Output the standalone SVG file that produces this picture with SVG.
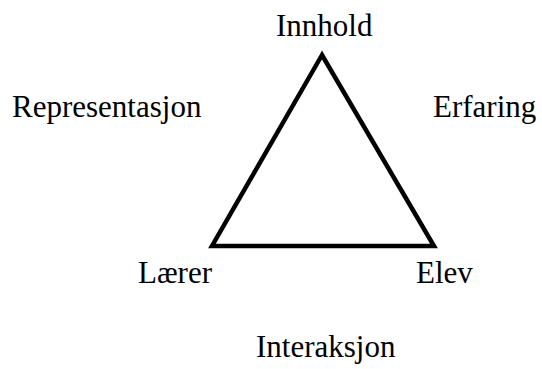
<svg xmlns="http://www.w3.org/2000/svg" width="542" height="369" viewBox="0 0 542 369">
<style>
.lbl{font-family:"Liberation Serif","Times New Roman",serif;font-size:31px;fill:#000}
.edge{fill:none;stroke:#000;stroke-width:4.5;stroke-linejoin:miter}
</style>
<rect width="542" height="369" fill="#fff"/>
<g id="connectors">
<polygon class="edge" points="322,55 212,246 434,246"/>
</g>
<g id="innhold"><text class="lbl" x="276" y="36">Innhold</text></g>
<g id="representasjon"><text class="lbl" x="12" y="117">Representasjon</text></g>
<g id="erfaring"><text class="lbl" x="433" y="117">Erfaring</text></g>
<g id="laerer"><text class="lbl" x="138" y="283">Lærer</text></g>
<g id="elev"><text class="lbl" x="416" y="283">Elev</text></g>
<g id="interaksjon"><text class="lbl" x="256" y="357">Interaksjon</text></g>
</svg>
